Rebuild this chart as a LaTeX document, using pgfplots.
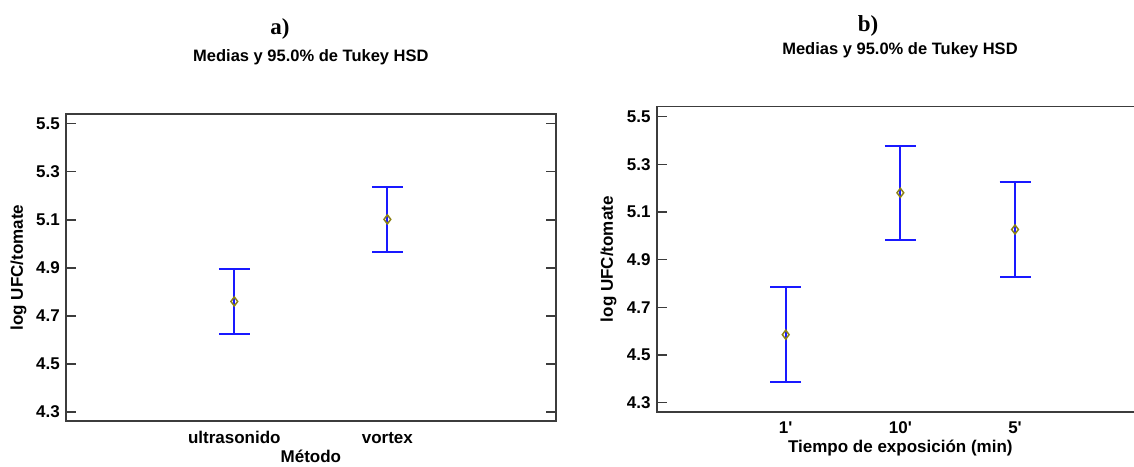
\documentclass[border=0pt]{standalone}
\usepackage{fontspec}
\setmainfont{Liberation Sans}
\newfontfamily\timesfont{Liberation Serif}
\usepackage{pgfplots}
\pgfplotsset{compat=1.18}
\definecolor{ebblue}{RGB}{25,25,255}
\definecolor{meanolive}{RGB}{140,130,20}
\definecolor{framegray}{RGB}{60,60,60}

\pgfplotsset{
  tukey/.style={
    scale only axis,
    ymin=4.262, ymax=5.541,
    ytick={4.3,4.5,4.7,4.9,5.1,5.3,5.5},
    tick align=inside,
    major tick length=10pt,
    xtick style={draw=none},
    ytick style={framegray, line width=1.3pt},
    axis line style={framegray, line width=1.6pt},
    font=\fontsize{17}{20}\selectfont\bfseries,
    /pgf/number format/assume math mode=true,
    yticklabel style={anchor=east, inner sep=0pt, xshift=-6pt,
      /pgf/number format/.cd, fixed, fixed zerofill, precision=1},
    xticklabel style={anchor=base, inner sep=0pt, yshift=-22pt},
    xlabel style={at={(axis description cs:0.5,0)}, anchor=base, inner sep=0pt, yshift=-41pt},
    clip=false,
  },
  tukeyplot/.style={
    only marks, mark=diamond, mark size=4.5pt,
    mark options={draw=meanolive, line width=1.5pt, fill=none},
    error bars/.cd, y dir=both, y explicit,
    error bar style={ebblue, line width=2pt},
    error mark options={rotate=90, ebblue, line width=2pt, mark size=15.5pt},
  },
}

\begin{document}
\begin{tikzpicture}[x=1pt,y=1pt]
\useasboundingbox (0,0) rectangle (1134,466);

% ---------- panel a ----------
\begin{axis}[tukey,
  at={(66pt,45pt)}, anchor=south west,
  width=489.7pt, height=307pt,
  xmin=-1.1, xmax=2.1,
  xtick={0,1}, xticklabels={ultrasonido, vortex},
  xlabel={Método},
  ylabel={log UFC/tomate},
  ylabel style={at={(axis description cs:-0.097,0.5)}, anchor=center},
]
\addplot[tukeyplot] coordinates {
  (0,4.760) +- (0,0.135)
  (1,5.102) +- (0,0.136)
};
\end{axis}

% ---------- panel b ----------
\begin{axis}[tukey,
  at={(656.7pt,54.3pt)}, anchor=south west,
  width=487.3pt, height=305pt,
  xmin=-1.125, xmax=3.125,
  xtick={0,1,2}, xticklabels={1\textquotesingle, 10\textquotesingle, 5\textquotesingle},
  xlabel={Tiempo de exposición (min)},
  ylabel={log UFC/tomate},
  ylabel style={at={(axis description cs:-0.099,0.5)}, anchor=center},
]
\addplot[tukeyplot] coordinates {
  (0,4.585) +- (0,0.199)
  (1,5.180) +- (0,0.198)
  (2,5.026) +- (0,0.200)
};
\end{axis}

% ---------- titles ----------
\node[anchor=base, inner sep=0pt, font=\timesfont\fontsize{23}{26}\selectfont\bfseries] at (280,431) {a)};
\node[anchor=base, inner sep=0pt, font=\fontsize{16.5}{20}\selectfont\bfseries] at (310.9,404) {Medias y 95.0\% de Tukey HSD};
\node[anchor=base, inner sep=0pt, font=\timesfont\fontsize{23}{26}\selectfont\bfseries] at (868,434) {b)};
\node[anchor=base, inner sep=0pt, font=\fontsize{16.5}{20}\selectfont\bfseries] at (900,411) {Medias y 95.0\% de Tukey HSD};
\end{tikzpicture}
\end{document}
